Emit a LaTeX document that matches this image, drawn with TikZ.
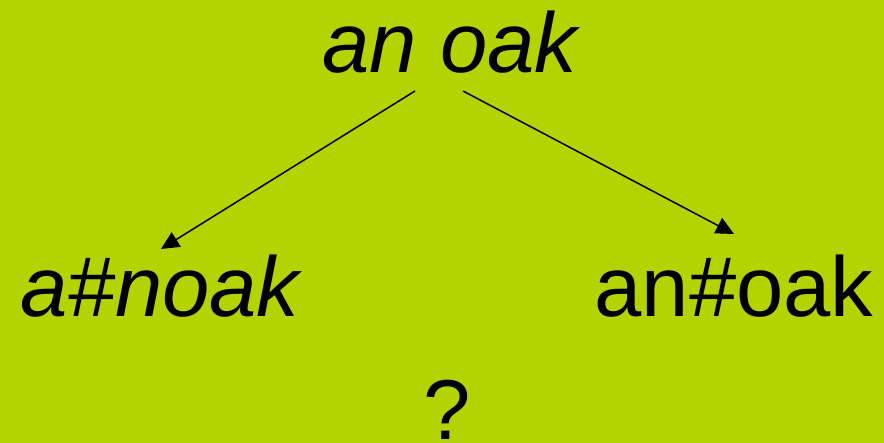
\documentclass[tikz,border=0pt]{standalone}
\usepackage{fontspec}
\setmainfont{Liberation Sans}
\usetikzlibrary{arrows.meta}
\definecolor{bg}{RGB}{181,211,0}
\begin{document}
\begin{tikzpicture}[x=1pt,y=-1pt,
  lbl/.style={anchor=base,inner sep=0pt,font=\fontsize{85}{90}\selectfont},
  arr/.style={line width=1.5pt,-{Triangle[length=18pt,width=17pt]}}]
\fill[bg] (0,0) rectangle (884,443);
\useasboundingbox (0,0) rectangle (884,443);
\node[lbl] (top) at (450,73) {\itshape an oak};
\node[lbl] (left) at (160,317) {\itshape a\#noak};
\node[lbl] (right) at (734,317) {an\#oak};
\node[lbl] (q) at (447,440) {?};
\coordinate (s1) at (415,91);
\coordinate (e1) at (161,249);
\coordinate (s2) at (463,91);
\coordinate (e2) at (734,234);
\draw[arr] (s1) -- (e1);
\draw[arr] (s2) -- (e2);
\end{tikzpicture}
\end{document}
